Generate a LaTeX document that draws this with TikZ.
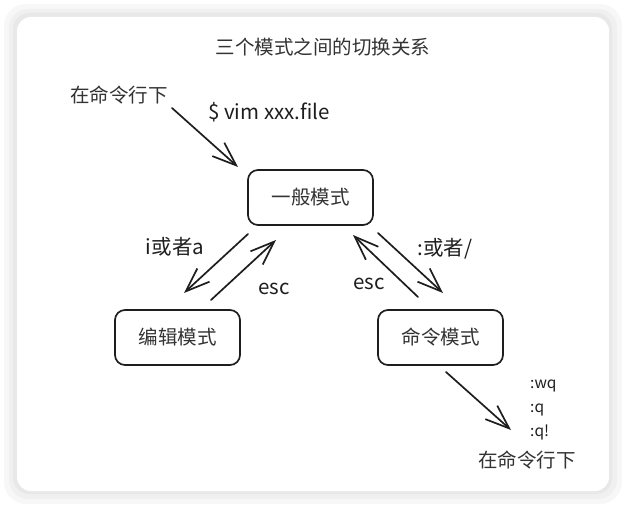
\documentclass[tikz,border=0pt]{standalone}
\usepackage{fontspec}
\setmainfont{Noto Sans CJK SC}
\usetikzlibrary{arrows.meta}
\definecolor{ink}{HTML}{1E1E1E}
\definecolor{txt}{HTML}{333333}
\tikzset{
  mode/.style={draw=ink, line width=1.7pt, rounded corners=10pt, minimum width=125pt, minimum height=55pt, font=\fontsize{19.5}{21}\selectfont, text=txt, inner sep=0pt},
  lbl/.style={font=\fontsize{19.5}{21}\selectfont, text=txt, inner sep=0pt},
  hand/.style={font=\fontsize{20.5}{22}\selectfont, text=ink, inner sep=0pt},
  small/.style={font=\fontsize{15.5}{17}\selectfont, text=ink, inner sep=0pt},
  arr/.style={draw=ink, line width=1.7pt, line cap=round, -{Straight Barb[length=24pt, width=18pt, line width=1.7pt]}},
}
\begin{document}
\begin{tikzpicture}[x=1pt,y=-1pt]
\useasboundingbox (0,0) rectangle (627,508);
% card with shadow
\fill[gray!6, rounded corners=22pt] (4,4) rectangle (622,504);
\fill[gray!12, rounded corners=19pt] (9,9) rectangle (617,499);
\fill[gray!18, rounded corners=16pt] (13,13) rectangle (612,494);
\fill[white, rounded corners=14pt] (17,17) rectangle (609,491);
% title
\node[lbl] (title) at (323,47) {三个模式之间的切换关系};
% nodes
\node[mode] (normal) at (310.5,197.5) {一般模式};
\node[mode] (edit) at (177.5,337.5) {编辑模式};
\node[mode] (cmd) at (440.5,337.5) {命令模式};
% labels
\node[lbl] (start) at (119,95) {在命令行下};
\node[hand] (vim) at (269,112) {\$ vim xxx.file};
\node[hand] (ia) at (175,247) {i或者a};
\node[hand] (esc1) at (274,289) {esc};
\node[hand] (esc2) at (369,284) {esc};
\node[hand] (colon) at (445,249) {:或者/};
\node[small, anchor=west] (wq) at (530,386) {:wq};
\node[small, anchor=west] (q) at (530,410) {:q};
\node[small, anchor=west] (qq) at (530,432) {:q!};
\node[lbl] (end) at (527,460) {在命令行下};
% connector endpoints
\coordinate (s1) at (172,108);
\coordinate (e1) at (238,167);
\coordinate (a1s) at (248,234);
\coordinate (a1e) at (184,293);
\coordinate (a2s) at (211,300);
\coordinate (a2e) at (276,240);
\coordinate (a3s) at (418,297);
\coordinate (a3e) at (353,235);
\coordinate (a4s) at (378,233);
\coordinate (a4e) at (443,293);
\coordinate (b1s) at (446,372);
\coordinate (b1e) at (511,430);
% connectors
\draw[arr] (s1) -- (e1);
\draw[arr] (a1s) -- (a1e);
\draw[arr] (a2s) -- (a2e);
\draw[arr] (a3s) -- (a3e);
\draw[arr] (a4s) -- (a4e);
\draw[arr] (b1s) -- (b1e);
\end{tikzpicture}
\end{document}
